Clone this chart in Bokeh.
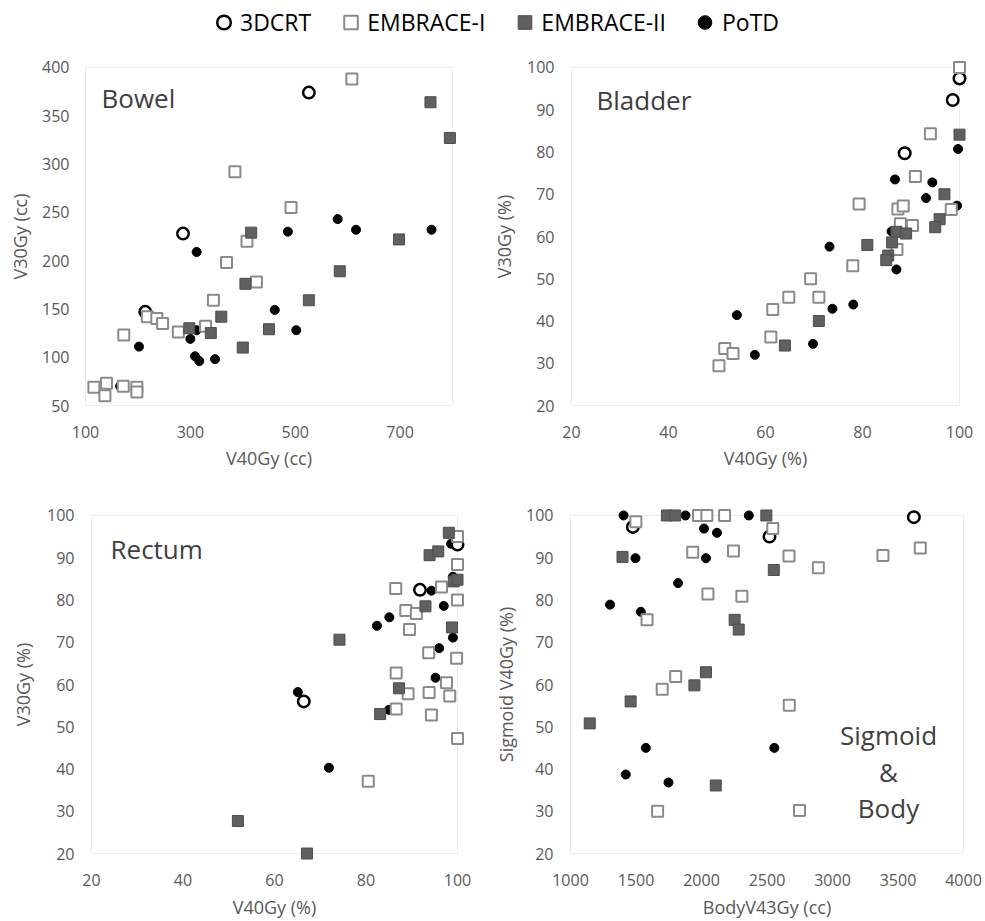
from bokeh.plotting import figure
from bokeh.models import Range1d, FixedTicker, BoxAnnotation, Label, Legend, LegendItem
from bokeh.layouts import column, row
from bokeh.embed import file_html
from bokeh.resources import INLINE

# ---------------- data ----------------
series_names = ["3DCRT", "EMBRACE-I", "EMBRACE-II", "PoTD"]

# Bowel: V40Gy (cc) vs V30Gy (cc)
bowel_3dcrt_x = [526, 286, 214]
bowel_3dcrt_y = [374, 228, 147]
bowel_e1_x = [608, 385, 492, 408, 369, 426, 344, 218, 236, 247, 173, 277, 329, 116, 140, 137, 172, 198, 198]
bowel_e1_y = [388, 292, 255, 220, 198, 178, 159, 142, 140, 135, 123, 126, 132, 69, 73, 60, 70, 69, 64]
bowel_e2_x = [758, 795, 416, 698, 585, 405, 526, 359, 298, 339, 450, 400]
bowel_e2_y = [364, 327, 229, 222, 189, 176, 159, 142, 130, 125, 129, 110]
bowel_potd_x = [581, 486, 616, 760, 312, 461, 502, 312, 300, 202, 309, 317, 347, 166]
bowel_potd_y = [243, 230, 232, 232, 209, 149, 128, 128, 119, 111, 101, 96, 98, 70]

# Bladder: V40Gy (%) vs V30Gy (%)
bladder_3dcrt_x = [100, 98.6, 88.7]
bladder_3dcrt_y = [97.4, 92.3, 79.7]
bladder_e1_x = [100, 94, 90.9, 79.3, 87.3, 88.4, 98.3, 90.3, 87.8, 87.1, 78, 69.3, 64.8, 71.0, 61.5, 61.1, 51.6, 53.3, 50.4]
bladder_e1_y = [100, 84.3, 74.2, 67.7, 66.5, 67.2, 66.4, 62.6, 63, 56.9, 53.1, 50, 45.6, 45.6, 42.7, 36.2, 33.5, 32.3, 29.4]
bladder_e2_x = [100, 96.9, 95.9, 95.0, 87.0, 89.0, 81.0, 86.1, 85.3, 84.9, 71.0, 64.0]
bladder_e2_y = [84.1, 70.0, 64.1, 62.2, 61.1, 60.7, 58.0, 58.6, 55.5, 54.4, 40.0, 34.2]
bladder_potd_x = [99.7, 86.7, 94.4, 93.1, 99.5, 86.0, 73.2, 87.0, 78.1, 73.8, 54.1, 69.8, 57.8]
bladder_potd_y = [80.7, 73.5, 72.8, 69.1, 67.3, 61.2, 57.6, 52.2, 43.9, 42.9, 41.4, 34.6, 32.0]

# Rectum: V40Gy (%) vs V30Gy (%)
rectum_3dcrt_x = [100, 91.8, 66.4]
rectum_3dcrt_y = [93.1, 82.4, 56.0]
rectum_e1_x = [100, 100, 86.5, 96.5, 100, 88.7, 91, 89.5, 93.7, 99.8, 86.6, 97.6, 89.2, 93.8, 98.3, 86.6, 94.3, 100, 80.5]
rectum_e1_y = [95, 88.4, 82.7, 83.1, 80, 77.5, 76.8, 73.0, 67.5, 66.2, 62.7, 60.4, 57.8, 58.1, 57.3, 54.2, 52.8, 47.2, 37.1]
rectum_e2_x = [98.1, 93.9, 95.8, 99.2, 100, 93, 74.2, 98.8, 87.2, 83.1, 52.0, 67.1]
rectum_e2_y = [95.9, 90.6, 91.5, 84.4, 84.8, 78.5, 70.6, 73.5, 59.1, 53.0, 27.7, 20.0]
rectum_potd_x = [98.6, 99.0, 94.3, 97, 85.1, 82.4, 99.0, 96.0, 95.2, 65.1, 71.9, 85.0]
rectum_potd_y = [93.3, 85.5, 82.2, 78.6, 75.9, 73.9, 71.1, 68.6, 61.6, 58.2, 40.3, 54.0]

# Sigmoid & Body: BodyV43Gy (cc) vs Sigmoid V40Gy (%)
sigmoid_3dcrt_x = [3621, 1476, 2519]
sigmoid_3dcrt_y = [99.6, 97.3, 95.0]
sigmoid_e1_x = [1499, 1977, 2041, 2176, 2544, 1933, 2244, 2668, 2892, 3385, 3670, 2049, 2308, 1584, 1803, 1700, 2670, 1665, 2748]
sigmoid_e1_y = [98.5, 100, 100, 100, 96.9, 91.3, 91.6, 90.4, 87.6, 90.5, 92.3, 81.4, 80.9, 75.3, 61.9, 58.9, 55.1, 30.0, 30.2]
sigmoid_e2_x = [1736, 1799, 2495, 1397, 2552, 2253, 2284, 2034, 1946, 1459, 1147, 2109]
sigmoid_e2_y = [100, 100, 100, 90.2, 87.1, 75.3, 73.0, 62.9, 59.8, 56.0, 50.8, 36.1]
sigmoid_potd_x = [1405, 1878, 2361, 2019, 2118, 1496, 2034, 1821, 1302, 1537, 1575, 2556, 1422, 1748]
sigmoid_potd_y = [100, 100, 100, 96.9, 95.9, 89.9, 89.9, 84.0, 78.9, 77.2, 45.0, 45.0, 38.7, 36.8]

bowel_xticks = [100, 300, 500, 700]
bowel_yticks = [50, 100, 150, 200, 250, 300, 350, 400]
pct_ticks = [20, 40, 60, 80, 100]
pct_yticks = [20, 30, 40, 50, 60, 70, 80, 90, 100]
body_xticks = [1000, 1500, 2000, 2500, 3000, 3500, 4000]

# ---------------- styles ----------------
FONT = "Open Sans"
PAD = 8          # extra frame room so edge markers are not clipped
YCORR = 10       # baseline correction for panel titles
TICK_COLOR = "#595959"
STYLE = {
    "3DCRT": dict(marker="circle", size=11.5, fill_color="white", line_color="black", line_width=2.5),
    "EMBRACE-I": dict(marker="square", size=11, fill_color="white", line_color="#8a8a8a", line_width=2),
    "EMBRACE-II": dict(marker="square", size=11, fill_color="#606060", line_color="#4d4d4d", line_width=1),
    "PoTD": dict(marker="circle", size=9, fill_color="black", line_color="black", line_width=1),
}


def make_panel(width, height, bl, br, bt, bb, xlim, ylim, xticks, yticks,
               xlabel, ylabel, ytick_so, ylab_so, xtick_so, xlab_so, data):
    fw = width - bl - br
    fh = height - bt - bb
    dx = (xlim[1] - xlim[0]) / fw
    dy = (ylim[1] - ylim[0]) / fh
    p = figure(width=width, height=height,
               x_range=Range1d(xlim[0] - PAD * dx, xlim[1] + PAD * dx),
               y_range=Range1d(ylim[0] - PAD * dy, ylim[1] + PAD * dy),
               min_border_left=bl - PAD, min_border_right=br - PAD,
               min_border_top=bt - PAD, min_border_bottom=bb - PAD,
               toolbar_location=None, output_backend="svg",
               outline_line_color=None, background_fill_color="white",
               border_fill_color="white")
    p.grid.visible = False
    p.xaxis.ticker = FixedTicker(ticks=xticks)
    p.yaxis.ticker = FixedTicker(ticks=yticks)
    p.xaxis.axis_label = xlabel
    p.yaxis.axis_label = ylabel
    for ax in (p.xaxis[0], p.yaxis[0]):
        ax.axis_line_color = None
        ax.major_tick_line_color = None
        ax.minor_tick_line_color = None
        ax.major_tick_in = 0
        ax.major_tick_out = 0
        ax.major_label_text_font = FONT
        ax.major_label_text_font_size = "16px"
        ax.major_label_text_color = TICK_COLOR
        ax.axis_label_text_font = FONT
        ax.axis_label_text_font_size = "18px"
        ax.axis_label_text_font_style = "normal"
        ax.axis_label_text_color = TICK_COLOR
    p.yaxis.major_label_standoff = ytick_so
    p.yaxis.axis_label_standoff = ylab_so
    p.xaxis.major_label_standoff = xtick_so
    p.xaxis.axis_label_standoff = xlab_so
    p.add_layout(BoxAnnotation(left=xlim[0], right=xlim[1], bottom=ylim[0], top=ylim[1],
                               fill_color=None, line_color="#bfbfbf", line_width=1,
                               level="underlay"))
    for name in ["PoTD", "3DCRT", "EMBRACE-I", "EMBRACE-II"]:
        xs, ys = data[name]
        p.scatter(x=xs, y=ys, **STYLE[name])
    return p, fw, fh


def add_title(p, text, sx, sy, align="left"):
    p.add_layout(Label(x=sx, y=sy, x_units="screen", y_units="screen", text=text,
                       text_font=FONT, text_font_size="26px", text_color="#404040",
                       text_align=align, text_baseline="alphabetic"))


# ---------------- legend ----------------
lg = figure(width=985, height=44, x_range=Range1d(0, 1), y_range=Range1d(0, 1),
            x_axis_type=None, y_axis_type=None, toolbar_location=None,
            output_backend="svg", min_border=0, outline_line_color=None)
legend_src = {"3DCRT": (bowel_3dcrt_x, bowel_3dcrt_y), "EMBRACE-I": (bowel_e1_x, bowel_e1_y),
              "EMBRACE-II": (bowel_e2_x, bowel_e2_y), "PoTD": (bowel_potd_x, bowel_potd_y)}
items = []
for name in series_names:
    xs, ys = legend_src[name]
    r = lg.scatter(x=xs[:1], y=ys[:1], **STYLE[name])
    r.visible = False   # only used to draw the legend glyph
    items.append(LegendItem(label=name, renderers=[r]))
legend = Legend(items=items, orientation="horizontal", location="center",
                border_line_color=None, background_fill_alpha=0,
                label_text_font=FONT, label_text_font_size="23px", label_text_color="black",
                glyph_width=34, glyph_height=34, label_standoff=0, spacing=22,
                padding=0, margin=0)
lg.add_layout(legend, "center")

# ---------------- panels ----------------
f1, w1, h1 = make_panel(482, 428, 85, 30, 23, 66, (100, 800), (50, 400), bowel_xticks, bowel_yticks,
                        "V40Gy (cc)", "V30Gy (cc)", 8, 7, 12, 5,
                        {"3DCRT": (bowel_3dcrt_x, bowel_3dcrt_y), "EMBRACE-I": (bowel_e1_x, bowel_e1_y),
                         "EMBRACE-II": (bowel_e2_x, bowel_e2_y), "PoTD": (bowel_potd_x, bowel_potd_y)})
add_title(f1, "Bowel", PAD + 16, PAD + h1 - 41 + YCORR)

f2, w2, h2 = make_panel(503, 428, 89, 26, 23, 65, (20, 100), (20, 100), pct_ticks, pct_yticks,
                        "V40Gy (%)", "V30Gy (%)", 9, 8, 12, 5,
                        {"3DCRT": (bladder_3dcrt_x, bladder_3dcrt_y), "EMBRACE-I": (bladder_e1_x, bladder_e1_y),
                         "EMBRACE-II": (bladder_e2_x, bladder_e2_y), "PoTD": (bladder_potd_x, bladder_potd_y)})
add_title(f2, "Bladder", PAD + 25, PAD + h2 - 44 + YCORR)

f3, w3, h3 = make_panel(482, 449, 91, 25, 41, 68, (20, 100), (20, 100), pct_ticks, pct_yticks,
                        "V40Gy (%)", "V30Gy (%)", 9, 9, 12, 6,
                        {"3DCRT": (rectum_3dcrt_x, rectum_3dcrt_y), "EMBRACE-I": (rectum_e1_x, rectum_e1_y),
                         "EMBRACE-II": (rectum_e2_x, rectum_e2_y), "PoTD": (rectum_potd_x, rectum_potd_y)})
add_title(f3, "Rectum", PAD + 19, PAD + h3 - 45 + YCORR)

f4, w4, h4 = make_panel(503, 449, 88, 22, 43, 67, (1000, 4000), (20, 100), body_xticks, pct_yticks,
                        "BodyV43Gy (cc)", "Sigmoid V40Gy (%)", 9, 5, 12, 6,
                        {"3DCRT": (sigmoid_3dcrt_x, sigmoid_3dcrt_y), "EMBRACE-I": (sigmoid_e1_x, sigmoid_e1_y),
                         "EMBRACE-II": (sigmoid_e2_x, sigmoid_e2_y), "PoTD": (sigmoid_potd_x, sigmoid_potd_y)})
add_title(f4, "Sigmoid", PAD + 318, PAD + 109 + YCORR, align="center")
add_title(f4, "&", PAD + 318, PAD + 72 + YCORR, align="center")
add_title(f4, "Body", PAD + 318, PAD + 36 + YCORR, align="center")

layout = column(lg, row(f1, f2), row(f3, f4))

open("out.html", "w").write(file_html(layout, INLINE))
